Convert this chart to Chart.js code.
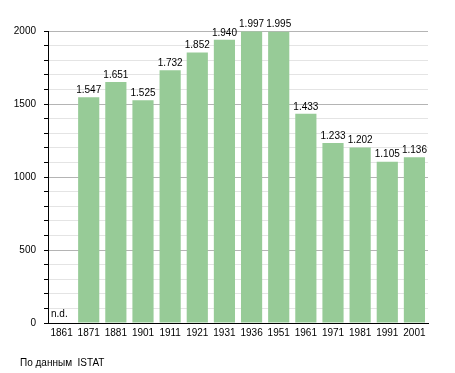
<!DOCTYPE html>
<html>
<head>
<meta charset="utf-8">
<script src="https://cdn.jsdelivr.net/npm/chart.js@4/dist/chart.umd.min.js"></script>
<style>
  html, body { margin: 0; padding: 0; background: #fff; }
  #wrap { position: relative; width: 455px; height: 373px; }
</style>
</head>
<body>
<div id="wrap"><canvas id="popChart" width="455" height="373"></canvas></div>
<script>
let years = ["1861", "1871", "1881", "1901", "1911", "1921", "1931", "1936", "1951", "1961", "1971", "1981", "1991", "2001"];
let population = [null, 1547, 1651, 1525, 1732, 1852, 1940, 1997, 1995, 1433, 1233, 1202, 1105, 1136];
let missingLabel = "n.d.";
let sourceNote = "По данным  ISTAT";

let fontFamily = "'Liberation Sans', Arial, sans-serif";

function formatIt(v) {
    return String(v).replace(/\B(?=(\d{3})+(?!\d))/g, ".");
}

// values above bars, "n.d." for missing years, source note at the bottom
let labelsPlugin = {
    id: 'barLabels',
    afterDatasetsDraw(chart) {
        let ctx = chart.ctx;
        let meta = chart.getDatasetMeta(0);
        ctx.save();
        ctx.font = "10px " + fontFamily;
        ctx.fillStyle = "#000";
        ctx.textBaseline = "bottom";
        meta.data.forEach((bar, i) => {
            let v = population[i];
            if (v === null) {
                ctx.textAlign = "left";
                ctx.fillText(missingLabel, chart.chartArea.left + 3, chart.chartArea.bottom - 4);
            } else {
                ctx.textAlign = "center";
                ctx.fillText(formatIt(v), bar.x, bar.y - 2);
            }
        });
        ctx.textAlign = "left";
        ctx.textBaseline = "middle";
        ctx.fillText(sourceNote, 20, 363);
        ctx.restore();
    }
};

let popChart = new Chart(document.getElementById('popChart'), {
    type: 'bar',
    data: {
        labels: years,
        datasets: [{
            data: population,
            backgroundColor: "#97cb97",
            borderWidth: 0,
            barPercentage: 0.78,
            categoryPercentage: 1.0
        }]
    },
    options: {
        responsive: false,
        animation: false,
        layout: { padding: { left: 0, right: 27, top: 31, bottom: 32 } },
        plugins: {
            legend: { display: false },
            tooltip: { enabled: false }
        },
        scales: {
            x: {
                grid: { display: false, drawTicks: false },
                border: { display: true, color: "#000", width: 1 },
                ticks: {
                    color: "#000",
                    font: { size: 10, family: fontFamily },
                    padding: 4,
                    maxRotation: 0,
                    autoSkip: false
                },
                afterFit(scale) { scale.height = 18; }
            },
            y: {
                min: 0,
                max: 2000,
                grid: {
                    color: (c) => (c.tick && c.tick.value % 500 === 0) ? "#b4b4b4" : "#e4e4e4",
                    tickColor: "#000",
                    tickLength: 4
                },
                border: { display: true, color: "#000", width: 1 },
                ticks: {
                    stepSize: 100,
                    autoSkip: false,
                    color: "#000",
                    font: { size: 10, family: fontFamily },
                    padding: 8,
                    callback: (v) => v % 500 === 0 ? v : ''
                },
                afterFit(scale) { scale.width = 48; }
            }
        }
    },
    plugins: [labelsPlugin]
});
</script>
</body>
</html>
